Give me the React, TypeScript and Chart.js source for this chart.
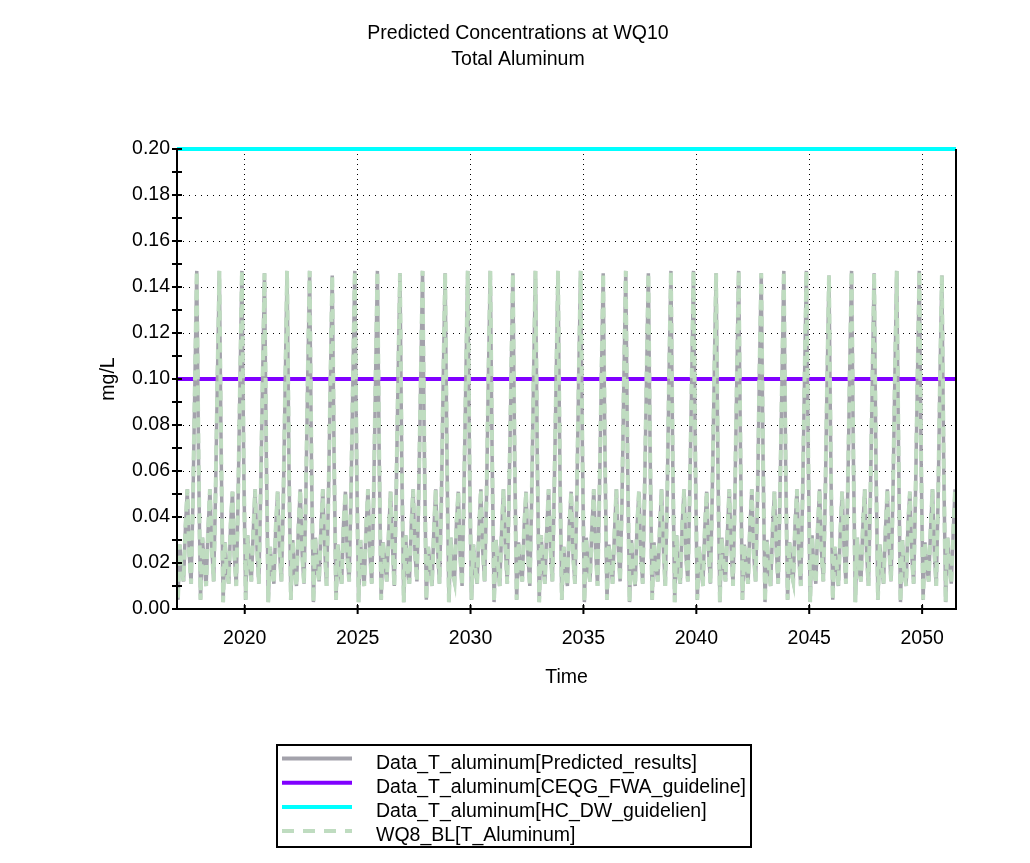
import React, { useEffect, useRef } from "react";
import { Chart, registerables } from "chart.js";

Chart.register(...registerables);

// ---------- text ----------
const chartTitle = ["Predicted Concentrations at WQ10", "Total Aluminum"];
const xAxisTitle = "Time";
const yAxisTitle = "mg/L";

// ---------- axes ----------
const xMin = 2017;
const xMax = 2051.5;
const yMin = 0;
const yMax = 0.2;
const xTickValues = [2020, 2025, 2030, 2035, 2040, 2045, 2050];
const yTickValues = [0, 0.02, 0.04, 0.06, 0.08, 0.1, 0.12, 0.14, 0.16, 0.18, 0.2];
const yMinorTickValues = [0.01, 0.03, 0.05, 0.07, 0.09, 0.11, 0.13, 0.15, 0.17, 0.19];

// ---------- series (monthly samples, first sample at seriesStart) ----------
const seriesStart = 2016.9583;
const samplesPerYear = 12;

const predictedResults = [
  /* 2017 */ 0.010, 0.004, 0.028, 0.017, 0.012, 0.036, 0.052, 0.024, 0.011, 0.048, 0.098, 0.147,
  /* 2018 */ 0.062, 0.004, 0.031, 0.019, 0.010, 0.034, 0.052, 0.026, 0.012, 0.051, 0.101, 0.147,
  /* 2019 */ 0.066, 0.003, 0.029, 0.016, 0.011, 0.037, 0.051, 0.023, 0.010, 0.049, 0.099, 0.147,
  /* 2020 */ 0.060, 0.004, 0.032, 0.020, 0.012, 0.033, 0.052, 0.027, 0.011, 0.052, 0.100, 0.146,
  /* 2021 */ 0.064, 0.003, 0.027, 0.018, 0.011, 0.036, 0.051, 0.025, 0.012, 0.047, 0.097, 0.147,
  /* 2022 */ 0.063, 0.004, 0.030, 0.017, 0.010, 0.035, 0.052, 0.024, 0.011, 0.050, 0.102, 0.147,
  /* 2023 */ 0.061, 0.003, 0.031, 0.019, 0.012, 0.034, 0.052, 0.026, 0.010, 0.049, 0.098, 0.145,
  /* 2024 */ 0.065, 0.004, 0.028, 0.016, 0.011, 0.037, 0.051, 0.023, 0.012, 0.051, 0.100, 0.147,
  /* 2025 */ 0.062, 0.003, 0.030, 0.018, 0.010, 0.035, 0.052, 0.025, 0.011, 0.048, 0.099, 0.147,
  /* 2026 */ 0.064, 0.004, 0.029, 0.020, 0.012, 0.033, 0.051, 0.027, 0.010, 0.050, 0.101, 0.146,
  /* 2027 */ 0.060, 0.003, 0.032, 0.017, 0.011, 0.036, 0.052, 0.024, 0.012, 0.052, 0.098, 0.147,
  /* 2028 */ 0.066, 0.004, 0.027, 0.019, 0.010, 0.034, 0.052, 0.026, 0.011, 0.047, 0.100, 0.146,
  /* 2029 */ 0.063, 0.003, 0.031, 0.016, 0.012, 0.037, 0.051, 0.023, 0.010, 0.050, 0.099, 0.147,
  /* 2030 */ 0.061, 0.004, 0.028, 0.018, 0.011, 0.035, 0.052, 0.025, 0.012, 0.049, 0.102, 0.147,
  /* 2031 */ 0.065, 0.003, 0.030, 0.020, 0.010, 0.033, 0.052, 0.027, 0.011, 0.051, 0.097, 0.146,
  /* 2032 */ 0.062, 0.004, 0.029, 0.017, 0.012, 0.036, 0.051, 0.024, 0.010, 0.048, 0.100, 0.147,
  /* 2033 */ 0.064, 0.003, 0.032, 0.019, 0.011, 0.034, 0.052, 0.026, 0.012, 0.052, 0.099, 0.147,
  /* 2034 */ 0.060, 0.004, 0.027, 0.016, 0.010, 0.037, 0.051, 0.023, 0.011, 0.049, 0.101, 0.147,
  /* 2035 */ 0.066, 0.003, 0.031, 0.018, 0.012, 0.035, 0.052, 0.025, 0.010, 0.050, 0.098, 0.146,
  /* 2036 */ 0.063, 0.004, 0.028, 0.020, 0.011, 0.033, 0.052, 0.027, 0.012, 0.047, 0.100, 0.147,
  /* 2037 */ 0.061, 0.003, 0.030, 0.017, 0.010, 0.036, 0.051, 0.024, 0.011, 0.051, 0.099, 0.146,
  /* 2038 */ 0.065, 0.004, 0.029, 0.019, 0.012, 0.034, 0.052, 0.026, 0.010, 0.048, 0.102, 0.147,
  /* 2039 */ 0.062, 0.003, 0.032, 0.016, 0.011, 0.037, 0.052, 0.023, 0.012, 0.050, 0.097, 0.147,
  /* 2040 */ 0.064, 0.004, 0.027, 0.018, 0.010, 0.035, 0.051, 0.025, 0.011, 0.052, 0.100, 0.146,
  /* 2041 */ 0.060, 0.003, 0.031, 0.020, 0.012, 0.033, 0.052, 0.027, 0.010, 0.049, 0.099, 0.147,
  /* 2042 */ 0.066, 0.004, 0.028, 0.017, 0.011, 0.036, 0.052, 0.024, 0.012, 0.047, 0.101, 0.146,
  /* 2043 */ 0.063, 0.003, 0.030, 0.019, 0.010, 0.034, 0.051, 0.026, 0.011, 0.051, 0.098, 0.147,
  /* 2044 */ 0.061, 0.004, 0.029, 0.016, 0.012, 0.037, 0.052, 0.023, 0.010, 0.050, 0.100, 0.147,
  /* 2045 */ 0.065, 0.003, 0.032, 0.018, 0.011, 0.035, 0.052, 0.025, 0.012, 0.048, 0.099, 0.145,
  /* 2046 */ 0.062, 0.004, 0.027, 0.020, 0.010, 0.033, 0.051, 0.027, 0.011, 0.052, 0.102, 0.147,
  /* 2047 */ 0.064, 0.003, 0.031, 0.017, 0.012, 0.036, 0.052, 0.024, 0.010, 0.049, 0.097, 0.146,
  /* 2048 */ 0.060, 0.004, 0.028, 0.019, 0.011, 0.034, 0.052, 0.026, 0.012, 0.050, 0.100, 0.147,
  /* 2049 */ 0.066, 0.003, 0.030, 0.016, 0.010, 0.037, 0.051, 0.023, 0.011, 0.051, 0.099, 0.147,
  /* 2050 */ 0.063, 0.004, 0.029, 0.018, 0.012, 0.035, 0.052, 0.025, 0.010, 0.048, 0.101, 0.145,
  /* 2051 */ 0.061, 0.003, 0.031, 0.020, 0.011, 0.033, 0.052,
];

// WQ8 baseline overlays the predicted results exactly in the picture
const wq8Baseline = predictedResults;

const guidelineTimes = [2017, 2051.5];
const ceqgFwaGuideline = [0.1, 0.1];
const hcDwGuideline = [0.2, 0.2];

const legendLabels = [
  "Data_T_aluminum[Predicted_results]",
  "Data_T_aluminum[CEQG_FWA_guideline]",
  "Data_T_aluminum[HC_DW_guidelien]",
  "WQ8_BL[T_Aluminum]",
];

// ---------- styles ----------
const FONT = '"Liberation Sans", Arial, sans-serif';
const FONT_SIZE = 19.5;
const grayColor = "#a3a2ab";
const purpleColor = "#8000ff";
const cyanColor = "#00ffff";
const greenColor = "#bfdcc0";
const greenDash = [10, 6];

const legendStyles = [
  { color: grayColor, dash: [] as number[] },
  { color: purpleColor, dash: [] as number[] },
  { color: cyanColor, dash: [] as number[] },
  { color: greenColor, dash: [12, 9] },
];

const decorPlugin = {
  id: "decor",
  afterDatasetsDraw(chart: any) {
    const { ctx, chartArea: a, scales } = chart;
    const xs = scales.x;
    const ys = scales.y;
    ctx.save();
    // axis frame
    ctx.strokeStyle = "#000";
    ctx.lineWidth = 2;
    ctx.setLineDash([]);
    ctx.beginPath();
    ctx.moveTo(a.left, a.top);
    ctx.lineTo(a.left, a.bottom);
    ctx.lineTo(a.right, a.bottom);
    ctx.lineTo(a.right, a.top);
    ctx.stroke();
    // tick marks crossing the axes
    ctx.beginPath();
    for (const v of [...yTickValues, ...yMinorTickValues]) {
      const py = ys.getPixelForValue(v);
      ctx.moveTo(a.left - 5, py);
      ctx.lineTo(a.left + 5, py);
    }
    for (const v of xTickValues) {
      const px = xs.getPixelForValue(v);
      ctx.moveTo(px, a.bottom - 4);
      ctx.lineTo(px, a.bottom + 5);
    }
    ctx.stroke();

    // titles
    ctx.fillStyle = "#000";
    ctx.font = `${FONT_SIZE}px ${FONT}`;
    ctx.textAlign = "center";
    ctx.textBaseline = "alphabetic";
    ctx.fillText(chartTitle[0], 518, 39);
    ctx.fillText(chartTitle[1], 518, 65);
    ctx.fillText(xAxisTitle, (a.left + a.right) / 2, 683);
    ctx.save();
    ctx.translate(114, (a.top + a.bottom) / 2);
    ctx.rotate(-Math.PI / 2);
    ctx.fillText(yAxisTitle, 0, 0);
    ctx.restore();

    // legend
    const lx = 277;
    const ly = 745;
    const lw = 474;
    const lh = 102;
    ctx.lineWidth = 2;
    ctx.strokeStyle = "#000";
    ctx.strokeRect(lx, ly, lw, lh);
    ctx.textAlign = "left";
    for (let i = 0; i < legendLabels.length; i++) {
      const yLine = 758.5 + i * 24.2;
      ctx.save();
      ctx.strokeStyle = legendStyles[i].color;
      ctx.lineWidth = 4;
      ctx.setLineDash(legendStyles[i].dash);
      ctx.beginPath();
      ctx.moveTo(282, yLine);
      ctx.lineTo(352, yLine);
      ctx.stroke();
      ctx.restore();
      ctx.fillText(legendLabels[i], 376, yLine + 10);
    }
    ctx.restore();
  },
};

export default function App() {
  const canvasRef = useRef<HTMLCanvasElement | null>(null);

  useEffect(() => {
    const canvas = canvasRef.current;
    if (!canvas) return;

    const seriesPoints = (values: number[]) =>
      values.map((v, i) => ({ x: seriesStart + i / samplesPerYear, y: v }));
    const guidePoints = (values: number[]) =>
      values.map((v, i) => ({ x: guidelineTimes[i], y: v }));

    const chart = new Chart(canvas, {
      type: "line",
      data: {
        datasets: [
          {
            label: legendLabels[3],
            data: seriesPoints(wq8Baseline),
            borderColor: greenColor,
            borderWidth: 4,
            borderDash: greenDash,
            pointRadius: 0,
            tension: 0,
            order: 0,
          },
          {
            label: legendLabels[0],
            data: seriesPoints(predictedResults),
            borderColor: grayColor,
            borderWidth: 3.5,
            pointRadius: 0,
            tension: 0,
            order: 1,
          },
          {
            label: legendLabels[1],
            data: guidePoints(ceqgFwaGuideline),
            borderColor: purpleColor,
            borderWidth: 4,
            pointRadius: 0,
            order: 2,
          },
          {
            label: legendLabels[2],
            data: guidePoints(hcDwGuideline),
            borderColor: cyanColor,
            borderWidth: 4,
            pointRadius: 0,
            order: 3,
            clip: { left: 0, right: 0, top: 4, bottom: 0 },
          },
        ] as any,
      },
      options: {
        animation: false,
        responsive: false,
        devicePixelRatio: 1,
        layout: { padding: { left: 0, top: 149, right: 74, bottom: 0 } },
        plugins: {
          legend: { display: false },
          title: { display: false },
          tooltip: { enabled: false },
        },
        scales: {
          x: {
            type: "linear",
            min: xMin,
            max: xMax,
            afterBuildTicks: (scale: any) => {
              scale.ticks = xTickValues.map((v) => ({ value: v }));
            },
            afterFit: (scale: any) => {
              scale.height = 254;
            },
            grid: { drawTicks: false, color: "#000", lineWidth: 1 },
            border: { display: false, dash: [1, 4] },
            ticks: {
              padding: 18,
              color: "#000",
              font: { family: FONT, size: FONT_SIZE },
              maxRotation: 0,
              autoSkip: false,
              callback: (v: any) => String(v),
            },
          },
          y: {
            type: "linear",
            min: yMin,
            max: yMax,
            afterBuildTicks: (scale: any) => {
              scale.ticks = yTickValues.map((v) => ({ value: v }));
            },
            afterFit: (scale: any) => {
              scale.width = 177;
            },
            grid: { drawTicks: false, color: "#000", lineWidth: 1 },
            border: { display: false, dash: [1, 5] },
            ticks: {
              padding: 7,
              color: "#000",
              font: { family: FONT, size: FONT_SIZE },
              autoSkip: false,
              callback: (v: any) => Number(v).toFixed(2),
            },
          },
        },
      } as any,
      plugins: [decorPlugin],
    });

    return () => chart.destroy();
  }, []);

  return (
    <div
      style={{
        position: "fixed",
        left: 0,
        top: 0,
        width: 1030,
        height: 863,
        background: "#fff",
      }}
    >
      <canvas
        ref={canvasRef}
        width={1030}
        height={863}
        style={{ width: 1030, height: 863, display: "block" }}
      />
    </div>
  );
}
